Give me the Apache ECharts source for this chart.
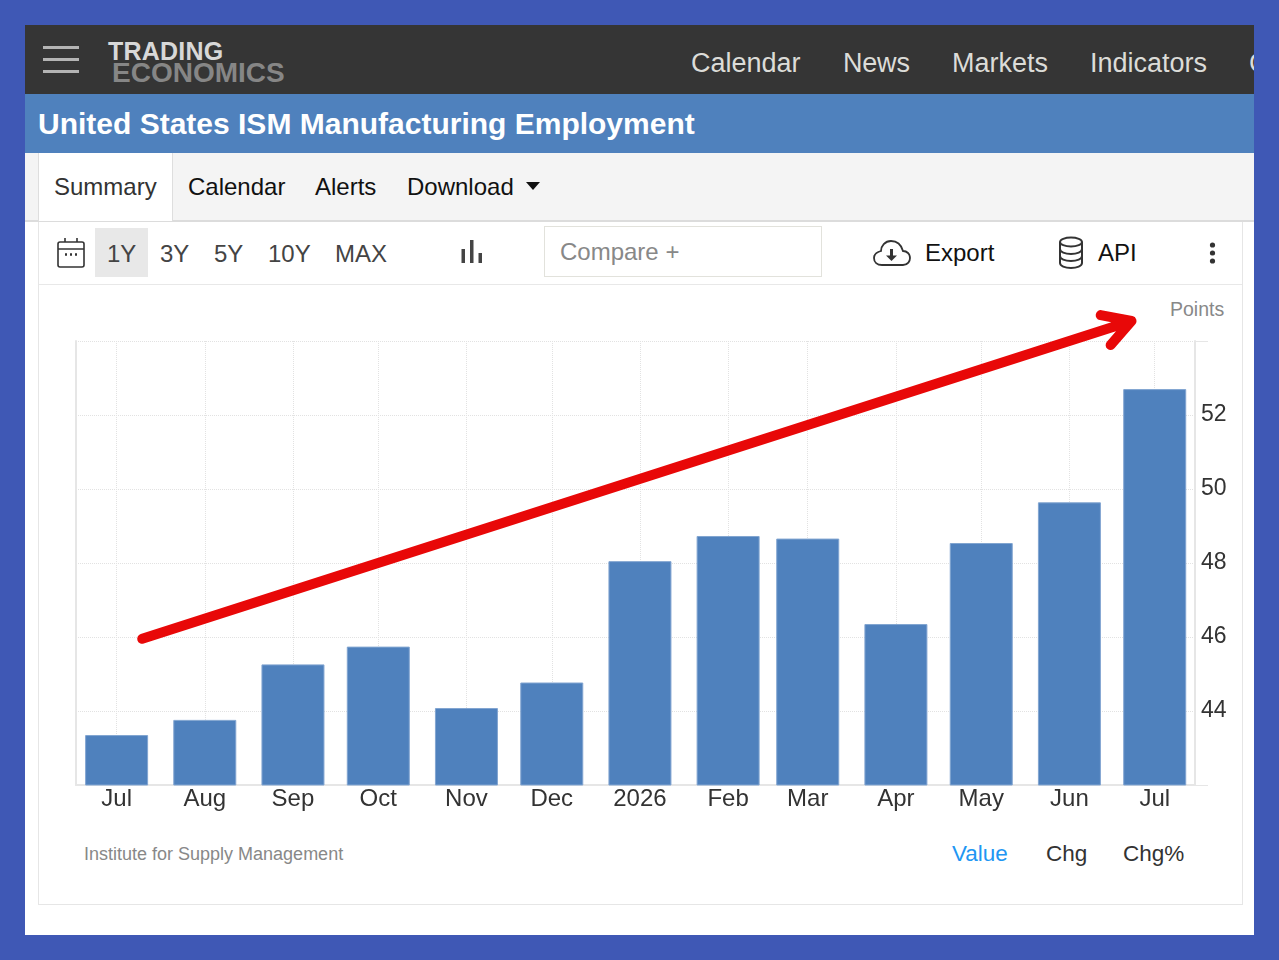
<!DOCTYPE html>
<html><head><meta charset="utf-8">
<script src="https://cdn.jsdelivr.net/npm/echarts@6/dist/echarts.min.js"></script>
<style>
html,body{margin:0;padding:0;width:1279px;height:960px;overflow:hidden;background:#3f58b5;font-family:"Liberation Sans",Arial,sans-serif}
.a{position:absolute;white-space:nowrap}
.t{position:absolute;white-space:nowrap;transform:translateY(-50%);line-height:1}
#chart{position:absolute;left:0;top:0;width:1279px;height:960px}
</style></head><body>
<div class="a" style="left:25px;top:25px;width:1229px;height:910px;background:#fff"></div>
<div class="a" style="left:25px;top:25px;width:1229px;height:69px;background:#353535;overflow:hidden">
  <div class="a" style="left:18px;top:21px;width:36px;height:3px;background:#b4b4b4"></div>
  <div class="a" style="left:18px;top:33px;width:36px;height:3px;background:#b4b4b4"></div>
  <div class="a" style="left:18px;top:45px;width:36px;height:3px;background:#b4b4b4"></div>
  <div class="t" style="left:83px;top:26px;font-size:25px;font-weight:bold;color:#d8d8d8;letter-spacing:.2px">TRADING</div>
  <div class="t" style="left:87px;top:48px;font-size:28px;font-weight:bold;color:#868686">ECONOMICS</div>
  <div class="t" style="left:666px;top:38px;font-size:27px;color:#dcdcd8">Calendar</div>
  <div class="t" style="left:818px;top:38px;font-size:27px;color:#dcdcd8;letter-spacing:-.2px">News</div>
  <div class="t" style="left:927px;top:38px;font-size:27px;color:#dcdcd8">Markets</div>
  <div class="t" style="left:1065px;top:38px;font-size:27px;color:#dcdcd8">Indicators</div>
  <div class="t" style="left:1224px;top:38px;font-size:27px;color:#dcdcd8">Commodities</div>
</div>
<div class="a" style="left:25px;top:94px;width:1229px;height:59px;background:#4f81bd"></div>
<div class="t" style="left:38px;top:124px;font-size:30px;font-weight:bold;color:#fff">United States ISM Manufacturing Employment</div>
<div class="a" style="left:25px;top:153px;width:1229px;height:67px;background:#f4f4f4;border-bottom:2px solid #dcdcdc"></div>
<div class="a" style="left:38px;top:153px;width:133px;height:68px;background:#fff;border-left:1px solid #dedede;border-right:1px solid #dedede"></div>
<div class="t" style="left:54px;top:187px;font-size:24px;color:#333">Summary</div>
<div class="t" style="left:188px;top:187px;font-size:24px;color:#111">Calendar</div>
<div class="t" style="left:315px;top:187px;font-size:24px;color:#111">Alerts</div>
<div class="t" style="left:407px;top:187px;font-size:24px;color:#111">Download</div>
<svg class="a" style="left:526px;top:182px" width="14" height="8"><path d="M0 0H14L7 8Z" fill="#111"/></svg>
<!-- panel -->
<div class="a" style="left:38px;top:222px;width:1203px;height:682px;border:1px solid #e6e6e6;border-top:none"></div>
<div class="a" style="left:39px;top:284px;width:1203px;height:1px;background:#e8e8e8"></div>
<div class="a" style="left:95px;top:228px;width:53px;height:49px;background:#e8e8e8"></div>
<svg class="a" style="left:56px;top:237px" width="30" height="32" fill="none" stroke="#333" stroke-width="1.6"><rect x="2" y="5" width="26" height="25" rx="2"/><path d="M2 12H28M9 1V5M21 1V5"/><path d="M9 17.5H11M14 17.5H16M19 17.5H21" stroke-width="2.4"/></svg>
<div class="t" style="left:107px;top:254px;font-size:24px;color:#444">1Y</div>
<div class="t" style="left:160px;top:254px;font-size:24px;color:#444">3Y</div>
<div class="t" style="left:214px;top:254px;font-size:24px;color:#444">5Y</div>
<div class="t" style="left:268px;top:254px;font-size:24px;color:#444">10Y</div>
<div class="t" style="left:335px;top:254px;font-size:24px;color:#444">MAX</div>
<svg class="a" style="left:460px;top:240px" width="24" height="24" fill="#444"><rect x="1.5" y="9" width="3.5" height="14"/><rect x="10" y="0" width="3.5" height="23"/><rect x="18.5" y="13" width="3.5" height="10"/></svg>
<div class="a" style="left:544px;top:226px;width:276px;height:49px;border:1px solid #e2e2dc"></div>
<div class="t" style="left:560px;top:252px;font-size:24px;color:#888">Compare +</div>
<svg class="a" style="left:873px;top:239px" width="38" height="28" fill="none" stroke="#333" stroke-width="1.8"><path d="M9 26H30C35 26 37 22 37 19C37 15 34 12 30 12C28 5 23 2 18 2C12 2 8 7 8 12C4 13 1 15 1 19C1 23 4 26 9 26Z"/><path d="M18.5 10V18" stroke-width="3"/><path d="M13 16.5H24L18.5 22Z" fill="#333" stroke="none"/></svg>
<div class="t" style="left:925px;top:253px;font-size:24px;color:#111">Export</div>
<svg class="a" style="left:1058px;top:236px" width="26" height="33" fill="none" stroke="#333" stroke-width="2"><ellipse cx="13" cy="6" rx="11" ry="4.5"/><path d="M2 6V27C2 30 7 32 13 32C19 32 24 30 24 27V6M2 13C2 16 7 18 13 18C19 18 24 16 24 13M2 20C2 23 7 25 13 25C19 25 24 23 24 20"/></svg>
<div class="t" style="left:1098px;top:253px;font-size:24px;color:#111">API</div>
<svg class="a" style="left:1208px;top:241px" width="9" height="23" fill="#333"><circle cx="4.5" cy="4" r="2.6"/><circle cx="4.5" cy="12" r="2.6"/><circle cx="4.5" cy="20" r="2.6"/></svg>
<div class="t" style="left:1170px;top:310px;font-size:19.5px;color:#888">Points</div>
<div class="t" style="left:84px;top:854px;font-size:18px;color:#888">Institute for Supply Management</div>
<div class="t" style="left:952px;top:854px;font-size:22.5px;color:#2196f3">Value</div>
<div class="t" style="left:1046px;top:854px;font-size:22.5px;color:#333">Chg</div>
<div class="t" style="left:1123px;top:854px;font-size:22.5px;color:#333">Chg%</div>
<div id="chart"></div>
<script>
const months = ['2025-07-01','2025-08-01','2025-09-01','2025-10-01','2025-11-01','2025-12-01','2026-01-01','2026-02-01','2026-03-01','2026-04-01','2026-05-01','2026-06-01','2026-07-01'];
const monthLabels = ['Jul','Aug','Sep','Oct','Nov','Dec','2026','Feb','Mar','Apr','May','Jun','Jul'];
const employment = [43.35,43.76,45.26,45.74,44.08,44.77,48.05,48.73,48.66,46.35,48.54,49.64,52.7];
const yTicks = [44,46,48,50,52];
const arrowDates = ['2025-07-10T00:00:00','2026-06-22T20:00:00','2026-06-12T00:00:00','2026-06-22T20:00:00','2026-06-15T12:00:00'];
const arrowValues = [45.95,54.54,54.7,54.54,53.89];
const ts = s => new Date(s.length === 10 ? s + 'T00:00:00' : s).getTime();
const monthTs = months.map(ts);
const DAY = 86400000;
const chart = echarts.init(document.getElementById('chart'));
chart.setOption({
  animation:false,
  backgroundColor:'transparent',
  textStyle:{fontFamily:'"Liberation Sans",Arial,sans-serif'},
  grid:{left:76,top:341,width:1119,height:444,containLabel:false},
  xAxis:{
    type:'time',
    min:ts('2025-06-27T19:00:00'),max:ts('2026-07-04T02:00:00'),
    minInterval:28*DAY,maxInterval:31*DAY,splitNumber:13,
    axisLine:{show:true,lineStyle:{color:'#e6e6e6',width:2}},
    axisTick:{show:false},
    splitLine:{show:true,lineStyle:{color:'#e2e2e2',type:'dotted',width:1}},
    minorSplitLine:{show:false},
    axisLabel:{
      margin:2,fontSize:24,color:'#333',hideOverlap:false,
      showMinLabel:false,showMaxLabel:false,
      formatter:(v)=>{const i=monthTs.indexOf(+v);return i<0?'':monthLabels[i];}
    }
  },
  yAxis:[{
    type:'value',position:'right',min:42,max:54,interval:2,
    axisLine:{show:true,lineStyle:{color:'#e6e6e6',width:2}},
    axisTick:{show:false},
    splitLine:{show:true,lineStyle:{color:'#e2e2e2',type:'dotted',width:1}},
    axisLabel:{customValues:yTicks,margin:6,fontSize:23,color:'#333',padding:[0,0,16,0]}
  },{
    type:'value',position:'left',min:42,max:54,interval:2,
    axisLine:{show:true,lineStyle:{color:'#e6e6e6',width:2}},
    axisTick:{show:false},axisLabel:{show:false},splitLine:{show:false}
  },{
    type:'value',position:'right',min:42,max:54,
    axisLine:{show:false},axisLabel:{show:false},splitLine:{show:false},
    axisTick:{show:true,length:13,customValues:[42,54],lineStyle:{color:'#e6e6e6',width:1}}
  }],
  series:[{
    type:'bar',barWidth:63,
    data:monthTs.map((t,i)=>[t,employment[i]]),
    itemStyle:{color:'#4f81bd',borderColor:'#82a5d1',borderWidth:1}
  },{
    type:'line',clip:false,symbol:'none',silent:true,z:10,
    data:arrowDates.map((d,i)=>[ts(d),arrowValues[i]]),
    lineStyle:{color:'#e80808',width:10,cap:'round',join:'round'}
  }]
});
</script>
</body></html>
